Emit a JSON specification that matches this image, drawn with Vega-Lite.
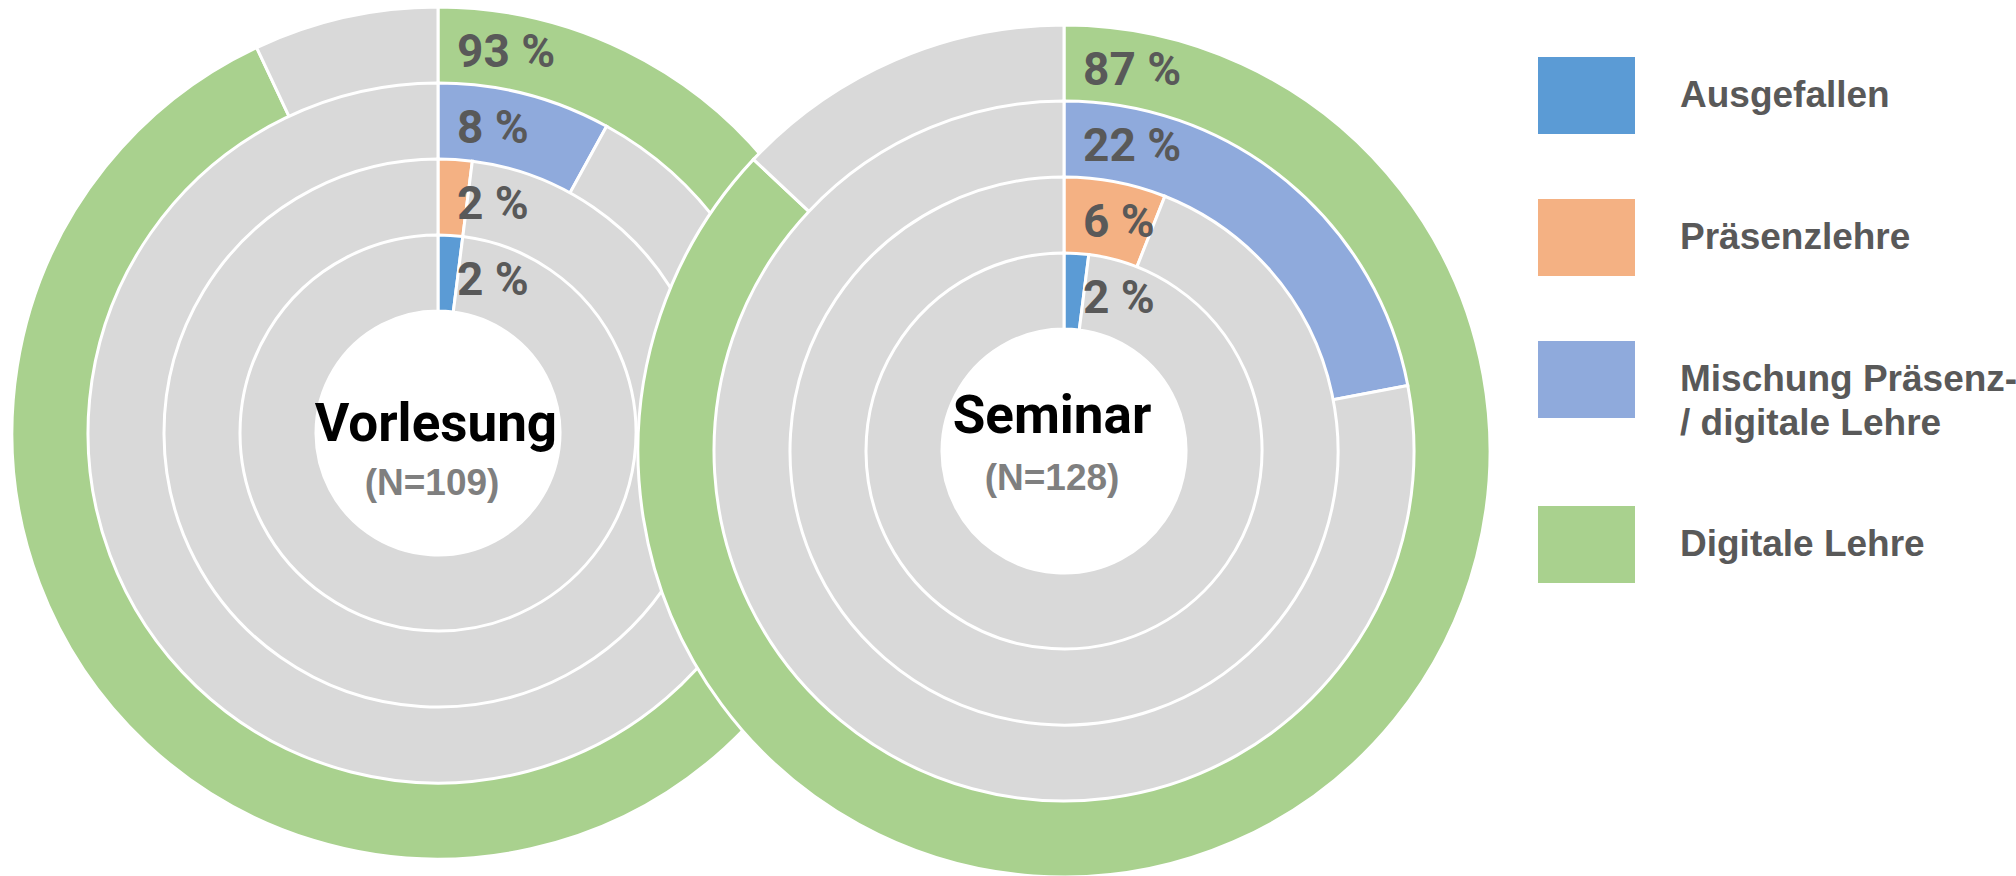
{
  "$schema": "https://vega.github.io/schema/vega-lite/v6.json",
  "width": 2016,
  "height": 876,
  "padding": 0,
  "autosize": {"type": "none"},
  "background": "white",
  "config": {
    "view": {"stroke": null},
    "style": {"guide-label": {"lineHeight": 44}},
    "locale": {
      "number": {"decimal": ",", "thousands": ".", "grouping": [3], "currency": ["", " €"], "percent": " %"}
    }
  },
  "datasets": {
    "segmente": [
      {"chart": "Vorlesung", "ring": 4, "kat": "Digitale Lehre", "von": 0, "bis": 0.93},
      {"chart": "Vorlesung", "ring": 4, "kat": "Rest", "von": 0.93, "bis": 1},
      {"chart": "Vorlesung", "ring": 3, "kat": "Mischung Präsenz-/ digitale Lehre", "von": 0, "bis": 0.08},
      {"chart": "Vorlesung", "ring": 3, "kat": "Rest", "von": 0.08, "bis": 1},
      {"chart": "Vorlesung", "ring": 2, "kat": "Präsenzlehre", "von": 0, "bis": 0.02},
      {"chart": "Vorlesung", "ring": 2, "kat": "Rest", "von": 0.02, "bis": 1},
      {"chart": "Vorlesung", "ring": 1, "kat": "Ausgefallen", "von": 0, "bis": 0.02},
      {"chart": "Vorlesung", "ring": 1, "kat": "Rest", "von": 0.02, "bis": 1},
      {"chart": "Seminar", "ring": 4, "kat": "Digitale Lehre", "von": 0, "bis": 0.87},
      {"chart": "Seminar", "ring": 4, "kat": "Rest", "von": 0.87, "bis": 1},
      {"chart": "Seminar", "ring": 3, "kat": "Mischung Präsenz-/ digitale Lehre", "von": 0, "bis": 0.22},
      {"chart": "Seminar", "ring": 3, "kat": "Rest", "von": 0.22, "bis": 1},
      {"chart": "Seminar", "ring": 2, "kat": "Präsenzlehre", "von": 0, "bis": 0.06},
      {"chart": "Seminar", "ring": 2, "kat": "Rest", "von": 0.06, "bis": 1},
      {"chart": "Seminar", "ring": 1, "kat": "Ausgefallen", "von": 0, "bis": 0.02},
      {"chart": "Seminar", "ring": 1, "kat": "Rest", "von": 0.02, "bis": 1}
    ],
    "diagramme": [
      {"chart": "Vorlesung", "titel": "Vorlesung", "n": "(N=109)"},
      {"chart": "Seminar", "titel": "Seminar", "n": "(N=128)"}
    ]
  },
  "layer": [
    {
      "layer": [
        {
          "data": {"name": "segmente"},
          "mark": {"type": "arc", "stroke": "white", "strokeWidth": 3},
          "encoding": {
            "x": {"field": "chart", "type": "nominal", "axis": null, "scale": {"type": "point", "padding": 0, "domain": ["Vorlesung", "Seminar"], "range": [438, 1064]}},
            "y": {"field": "chart", "type": "nominal", "axis": null, "scale": {"type": "point", "padding": 0, "domain": ["Vorlesung", "Seminar"], "range": [433, 451]}},
            "theta": {"field": "von", "type": "quantitative", "scale": {"type": "linear", "domain": [0, 1], "range": [0, 6.283185307179586]}},
            "theta2": {"field": "bis"},
            "radius": {"field": "ring", "type": "quantitative", "scale": {"type": "linear", "zero": false, "domain": [0, 4], "range": [122, 426]}},
            "color": {
              "field": "kat",
              "type": "nominal",
              "scale": {
                "domain": ["Ausgefallen", "Präsenzlehre", "Mischung Präsenz-/ digitale Lehre", "Digitale Lehre", "Rest"],
                "range": ["#5B9BD5", "#F4B183", "#8FAADC", "#A9D18E", "#D9D9D9"]
              },
              "legend": {
                "title": null,
                "orient": "none",
                "legendX": 1538,
                "legendY": 47,
                "padding": 0,
                "values": ["Ausgefallen", "Präsenzlehre", "Mischung Präsenz-/ digitale Lehre", "Digitale Lehre"],
                "symbolType": "M-1,-0.794L1,-0.794L1,0.794L-1,0.794Z",
                "symbolSize": 9409,
                "symbolStrokeWidth": 0,
                "symbolOpacity": 1,
                "labelFont": "Liberation Sans",
                "labelFontSize": 37,
                "labelFontWeight": "bold",
                "labelColor": "#595959",
                "labelOffset": 45,
                "labelLimit": 0,
                "rowPadding": 54,
                "labelExpr": "datum.label == 'Mischung Präsenz-/ digitale Lehre' ? ['Mischung Präsenz-', '/ digitale Lehre'] : datum.label"
              }
            }
          }
        },
        {
          "data": {"name": "segmente"},
          "transform": [{"filter": "datum.kat != 'Rest'"}],
          "mark": {"type": "text", "align": "left", "baseline": "middle", "dx": 19, "radiusOffset": -46, "font": "Roboto", "fontWeight": "bold", "fontSize": 46, "color": "#595959"},
          "encoding": {
            "x": {"field": "chart", "type": "nominal"},
            "y": {"field": "chart", "type": "nominal"},
            "theta": {"field": "von", "type": "quantitative"},
            "radius": {"field": "ring", "type": "quantitative"},
            "text": {"field": "bis", "type": "quantitative", "format": ".0%"}
          }
        },
        {
          "data": {"name": "diagramme"},
          "mark": {"type": "arc", "theta": 0, "theta2": 6.283185307179586, "radius": 122, "radius2": 0, "fill": "white"},
          "encoding": {
            "x": {"field": "chart", "type": "nominal"},
            "y": {"field": "chart", "type": "nominal"}
          }
        }
      ]
    },
    {
      "data": {"name": "diagramme"},
      "mark": {"type": "text", "align": "center", "baseline": "alphabetic", "font": "Roboto", "fontWeight": "bold", "fontSize": 53, "color": "#000000"},
      "encoding": {
        "x": {"field": "chart", "type": "nominal", "axis": null, "scale": {"type": "point", "padding": 0, "domain": ["Vorlesung", "Seminar"], "range": [436, 1052]}},
        "y": {"field": "chart", "type": "nominal", "axis": null, "scale": {"type": "point", "padding": 0, "domain": ["Vorlesung", "Seminar"], "range": [441, 433]}},
        "text": {"field": "titel"}
      }
    },
    {
      "data": {"name": "diagramme"},
      "mark": {"type": "text", "align": "center", "baseline": "alphabetic", "font": "Liberation Sans", "fontWeight": "bold", "fontSize": 37, "color": "#7F7F7F"},
      "encoding": {
        "x": {"field": "chart", "type": "nominal", "axis": null, "scale": {"type": "point", "padding": 0, "domain": ["Vorlesung", "Seminar"], "range": [432, 1052]}},
        "y": {"field": "chart", "type": "nominal", "axis": null, "scale": {"type": "point", "padding": 0, "domain": ["Vorlesung", "Seminar"], "range": [495, 490]}},
        "text": {"field": "n"}
      }
    }
  ],
  "resolve": {"scale": {"x": "independent", "y": "independent"}}
}
